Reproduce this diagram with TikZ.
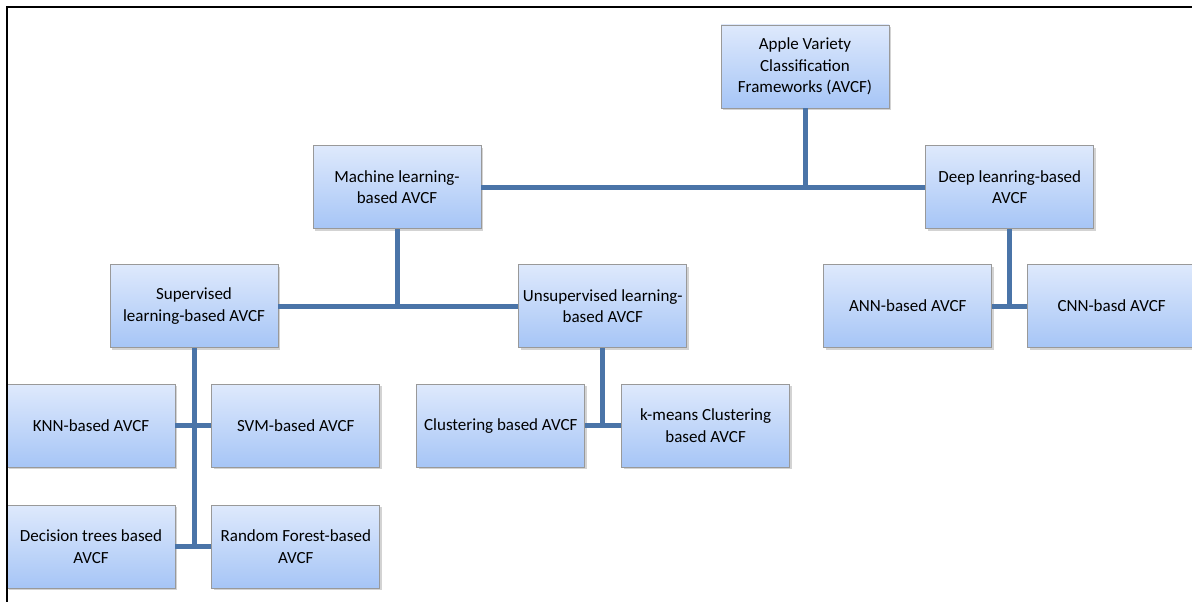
\documentclass[tikz,border=0pt]{standalone}
\usepackage{fontspec}
\setmainfont{Carlito}
\usetikzlibrary{positioning,shadows}

\definecolor{linkblue}{RGB}{74,116,168}
\definecolor{boxtop}{RGB}{222,233,252}
\definecolor{boxbot}{RGB}{166,197,246}

\begin{document}
\begin{tikzpicture}[
  x=1pt, y=1pt,
  font=\fontsize{17}{21.5}\selectfont,
  box/.style={draw=gray!80, line width=0.8pt, top color=boxtop, bottom color=boxbot, align=center,
    minimum width=168pt, minimum height=83pt, inner sep=2pt,
    drop shadow={shadow xshift=2pt, shadow yshift=-2pt, opacity=0.35}},
  link/.style={draw=linkblue, line width=5pt}
]
\useasboundingbox (0,0) rectangle (1192,-602);

\node[box] (avcf) at (805,-66.5) {Apple Variety\\Classification\\Frameworks (AVCF)};

\node[box, below=37pt of avcf, xshift=-408pt] (ml) {Machine learning-\\based AVCF};
\node[box, right=444pt of ml] (dl) {Deep leanring-based\\AVCF};

\node[box, below=35pt of ml, xshift=-203pt] (sup) {Supervised\\learning-based AVCF};
\node[box, right=240pt of sup] (unsup) {Unsupervised learning-\\based AVCF};

\node[box, below=35pt of dl, xshift=-102pt] (ann) {ANN-based AVCF};
\node[box, right=35pt of ann] (cnn) {CNN-basd AVCF};

\node[box, below=36pt of sup, xshift=-103pt] (knn) {KNN-based AVCF};
\node[box, right=36pt of knn] (svm) {SVM-based AVCF};
\node[box, below=37pt of knn] (dtree) {Decision trees based\\AVCF};
\node[box, right=36pt of dtree] (rforest) {Random Forest-based\\AVCF};

\node[box, below=36pt of unsup, xshift=-102pt] (clust) {Clustering based AVCF};
\node[box, right=36pt of clust] (kmeans) {k-means Clustering\\based AVCF};

% tree links
\draw[link] (ml) -- (dl);
\draw[link] (avcf.south) -- (avcf.south |- ml.east);

\draw[link] (sup) -- (unsup);
\draw[link] (ml.south) -- (ml.south |- sup.east);

\draw[link] (ann) -- (cnn);
\draw[link] (dl.south) -- (dl.south |- ann.east);

\draw[link] (knn) -- (svm);
\draw[link] (dtree) -- (rforest);
\draw[link] (sup.south) -- (sup.south |- dtree.east);

\draw[link] (clust) -- (kmeans);
\draw[link] (unsup.south) -- (unsup.south |- clust.east);

% frame
\draw[line width=2.5pt] (7,-602) -- (7,-7) -- (1192,-7);
\end{tikzpicture}
\end{document}
